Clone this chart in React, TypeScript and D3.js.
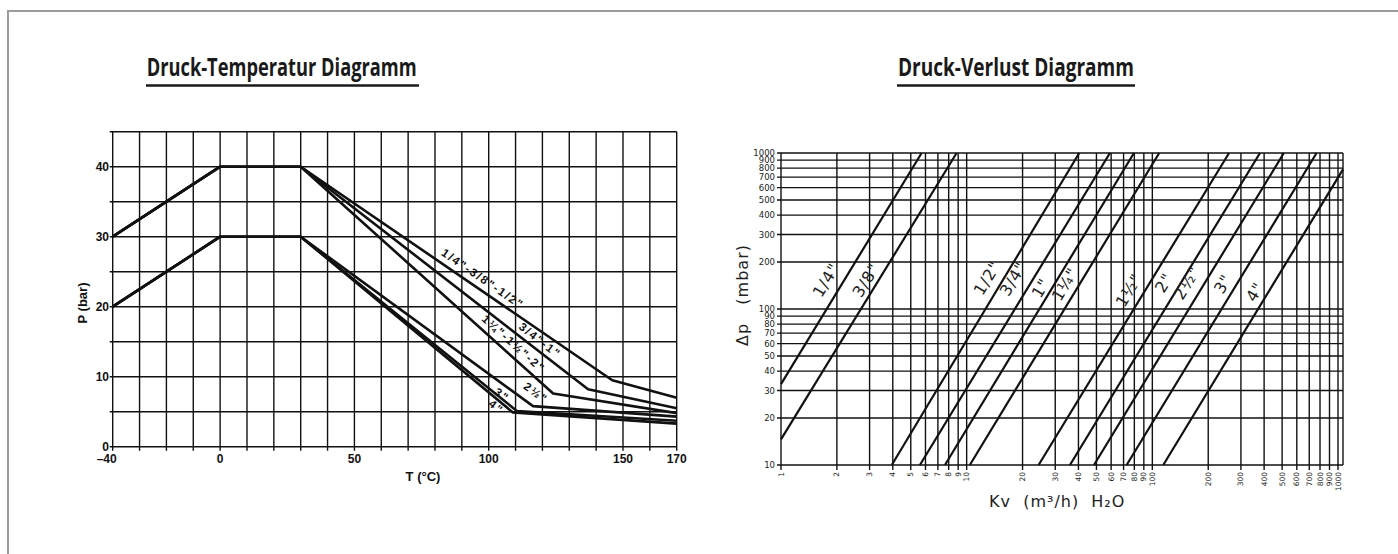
import React from 'react';
import * as d3 from 'd3';

const W = 1398, H = 554;

// ---------- Left chart: Druck-Temperatur ----------
const tempTicks = [-40, 0, 50, 100, 150, 170];
const pressTicks = [0, 10, 20, 30, 40];
const tempGrid = [-40, -30, -20, -10, 0, 10, 20, 30, 40, 50, 60, 70, 80, 90, 100, 110, 120, 130, 140, 150, 160, 170];
const pressGrid = [0, 5, 10, 15, 20, 25, 30, 35, 40, 45];

const ptNames = ['1/4"-3/8"-1/2"', '3/4"-1"', '1¼"-1½"-2"', '2½"', '3"', '4"'];
const ptSeries: [number, number][][] = [
  [[-40, 30], [0, 40], [30, 40], [146, 9.5], [170, 7.0]],
  [[-40, 30], [0, 40], [30, 40], [137, 8.2], [170, 5.5]],
  [[-40, 30], [0, 40], [30, 40], [124, 7.6], [170, 4.8]],
  [[-40, 20], [0, 30], [30, 30], [116.5, 5.8], [170, 4.3]],
  [[-40, 20], [0, 30], [30, 30], [110.5, 5.1], [170, 3.7]],
  [[-40, 20], [0, 30], [30, 30], [109, 4.9], [170, 3.3]],
];
const ptLabelAt: [number, number][] = [[97.8, 24.0], [119.1, 15.2], [109.3, 14.7], [117.6, 7.7], [104.9, 7.4], [102.8, 5.7]];

// ---------- Right chart: Druck-Verlust ----------
const kvTicks = [1, 2, 3, 4, 5, 6, 7, 8, 9, 10, 20, 30, 40, 50, 60, 70, 80, 90, 100, 200, 300, 400, 500, 600, 700, 800, 900, 1000];
const dpTicks = [10, 20, 30, 40, 50, 60, 70, 80, 90, 100, 200, 300, 400, 500, 600, 700, 800, 900, 1000];
const kvMax = 1064;

const dnNames = ['1/4"', '3/8"', '1/2"', '3/4"', '1"', '1¼"', '1½"', '2"', '2½"', '3"', '4"'];
const dnStart: [number, number][] = [[1, 33], [1, 14.6], [3.95, 10], [5.6, 10], [7.64, 10], [10.4, 10], [24.4, 10], [36, 10], [48.5, 10], [72.7, 10], [114.5, 10]];
const dnEnd: [number, number][] = [[5.72, 1000], [8.83, 1000], [40.4, 1000], [59.1, 1000], [79.6, 1000], [108.9, 1000], [259, 1000], [380, 1000], [511, 1000], [767, 1000], [1064, 785]];
const dnLabelAt: [number, number][] = [[1.75, 153], [2.87, 153], [12.9, 158], [17.8, 156], [25.1, 136], [33.8, 144], [74.8, 132], [115.5, 147], [153.6, 147], [240, 144.5], [357, 128.5]];

const INK = '#111';

export default function App() {
  const xL = d3.scaleLinear().domain([-40, 170]).range([112.7, 676.7]);
  const yL = d3.scaleLinear().domain([0, 45]).range([446.7, 131.7]);
  const lineL = d3.line<[number, number]>().x(d => xL(d[0])).y(d => yL(d[1]));

  const xR = d3.scaleLog().domain([1, 1000]).range([781, 1338]);
  const yR = d3.scaleLog().domain([10, 1000]).range([465, 153]);

  const boldFont = '"Liberation Sans", Arial, sans-serif';
  const lightFont = '"DejaVu Sans", sans-serif';

  return (
    <svg width={W} height={H} style={{ position: 'fixed', left: 0, top: 0, background: '#fff' }}>
      <rect x={0} y={0} width={W} height={H} fill="#fff" />
      <rect x={8} y={11} width={1500} height={700} fill="none" stroke="#9c9c9c" strokeWidth={2} />

      {/* Titles */}
      <text x={281.7} y={76} textAnchor="middle" fontFamily='"Open Sans", sans-serif' fontWeight={700} fontSize={25} fill="#1a1a1a" textLength={270} lengthAdjust="spacingAndGlyphs">Druck-Temperatur Diagramm</text>
      <line x1={146} x2={419} y1={85.5} y2={85.5} stroke="#1a1a1a" strokeWidth={2.5} />
      <text x={1016} y={76} textAnchor="middle" fontFamily='"Open Sans", sans-serif' fontWeight={700} fontSize={25} fill="#1a1a1a" textLength={236} lengthAdjust="spacingAndGlyphs">Druck-Verlust Diagramm</text>
      <line x1={897} x2={1135} y1={85.5} y2={85.5} stroke="#1a1a1a" strokeWidth={2.5} />

      {/* Left chart grid */}
      <g stroke={INK} strokeWidth={1.4}>
        {tempGrid.map(t => (
          <line key={'tv' + t} x1={xL(t)} x2={xL(t)} y1={yL(45)} y2={yL(0) + 4} />
        ))}
        {pressGrid.map(p => (
          <line key={'ph' + p} x1={xL(-40) - 3} x2={xL(170)} y1={yL(p)} y2={yL(p)} />
        ))}
      </g>
      {/* Left chart curves */}
      <g fill="none" stroke={INK} strokeWidth={2.6} strokeLinejoin="round">
        {ptSeries.map((s, i) => (
          <path key={'pt' + i} d={lineL(s) || ''} />
        ))}
      </g>
      {/* Left curve labels */}
      {ptNames.map((name, i) => {
        const s = ptSeries[i];
        const a = s[2], b = s[3];
        const ang = (Math.atan2(yL(b[1]) - yL(a[1]), xL(b[0]) - xL(a[0])) * 180) / Math.PI;
        const [lx, ly] = ptLabelAt[i];
        return (
          <text key={'ptl' + i} transform={`translate(${xL(lx)},${yL(ly)}) rotate(${ang})`} textAnchor="middle" dominantBaseline="central" fontFamily={boldFont} fontWeight={700} fontSize={11.5} letterSpacing={1.8} fill={INK}>{name}</text>
        );
      })}
      {/* Left axes labels */}
      {pressTicks.map(p => (
        <text key={'pl' + p} x={109} y={yL(p)} textAnchor="end" dominantBaseline="central" fontFamily={boldFont} fontWeight={700} fontSize={12} fill={INK}>{p}</text>
      ))}
      {tempTicks.map(t => (
        <text key={'tl' + t} x={xL(t) - (t < 0 ? 6 : 0)} y={463} textAnchor="middle" fontFamily={boldFont} fontWeight={700} fontSize={12} fill={INK}>{t < 0 ? '–' + Math.abs(t) : t}</text>
      ))}
      <text x={423} y={481} textAnchor="middle" fontFamily={boldFont} fontWeight={700} fontSize={13} fill={INK}>T (°C)</text>
      <text transform="translate(87,303) rotate(-90)" textAnchor="middle" fontFamily={boldFont} fontWeight={700} fontSize={13} fill={INK}>P (bar)</text>

      {/* Right chart grid */}
      <g stroke={INK} strokeWidth={1.4}>
        {kvTicks.map(k => (
          <line key={'kv' + k} x1={xR(k)} x2={xR(k)} y1={yR(1000)} y2={yR(10) + 5} />
        ))}
        <line x1={xR(kvMax)} x2={xR(kvMax)} y1={yR(1000)} y2={yR(10)} />
        {dpTicks.map(d => (
          <line key={'dp' + d} x1={xR(1) - 4} x2={xR(kvMax)} y1={yR(d)} y2={yR(d)} />
        ))}
      </g>
      {/* Right chart lines */}
      <g stroke={INK} strokeWidth={2.2}>
        {dnNames.map((n, i) => (
          <line key={'dn' + i} x1={xR(dnStart[i][0])} y1={yR(dnStart[i][1])} x2={xR(dnEnd[i][0])} y2={yR(dnEnd[i][1])} />
        ))}
      </g>
      {dnNames.map((n, i) => {
        const ang = (Math.atan2(yR(dnEnd[i][1]) - yR(dnStart[i][1]), xR(dnEnd[i][0]) - xR(dnStart[i][0])) * 180) / Math.PI;
        return (
          <text key={'dnl' + i} transform={`translate(${xR(dnLabelAt[i][0])},${yR(dnLabelAt[i][1])}) rotate(${ang})`} textAnchor="middle" dominantBaseline="central" fontFamily={lightFont} fontSize={16} letterSpacing={0.8} fill="#222">{n}</text>
        );
      })}
      {/* Right axes labels */}
      {dpTicks.map(d => (
        <text key={'dpl' + d} x={775} y={yR(d)} textAnchor="end" dominantBaseline="central" fontFamily={lightFont} fontSize={8.5} fill="#222">{d}</text>
      ))}
      {kvTicks.map(k => (
        <text key={'kvl' + k} transform={`translate(${xR(k)},472) rotate(-90)`} textAnchor="end" dominantBaseline="central" fontFamily={lightFont} fontSize={7.5} fill="#222">{k}</text>
      ))}
      <text transform="translate(748,295) rotate(-90)" textAnchor="middle" fontFamily={lightFont} fontSize={16} letterSpacing={1} fill="#222" xmlSpace="preserve">Δp   (mbar)</text>
      <text x={989} y={507} fontFamily={lightFont} fontSize={16} letterSpacing={1} fill="#222" xmlSpace="preserve">Kv  (m³/h)  H₂O</text>
    </svg>
  );
}
